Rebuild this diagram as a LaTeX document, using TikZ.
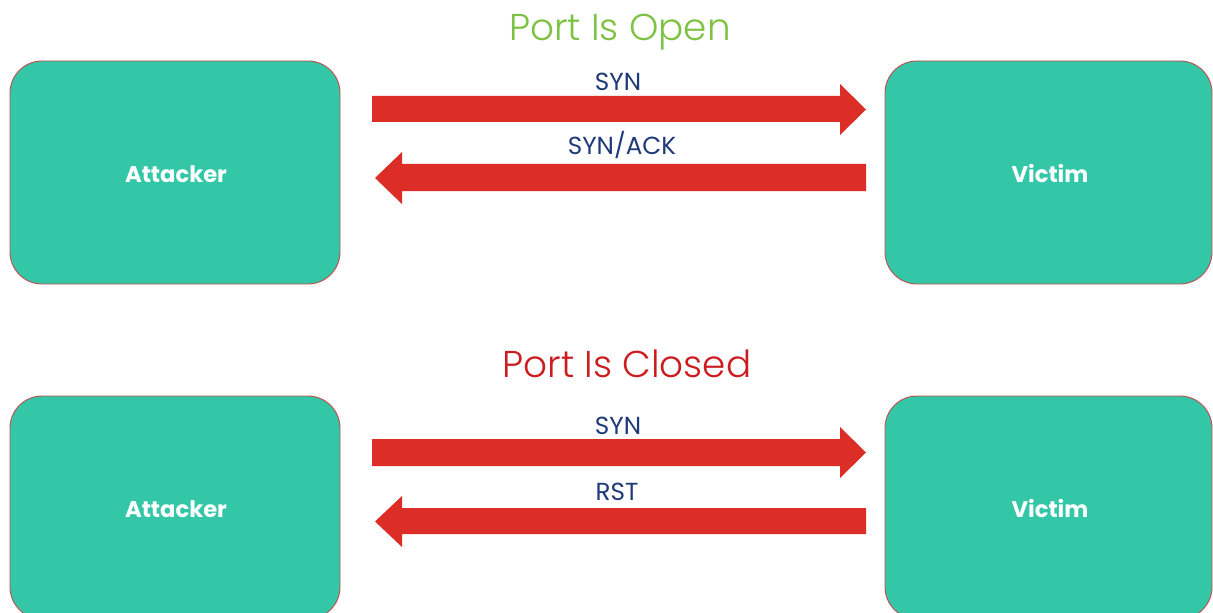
\documentclass[tikz,border=0pt]{standalone}
\usepackage{fontspec}
\setmainfont{Poppins}
\newfontfamily\titlefont{Poppins Light}
\definecolor{boxfill}{HTML}{33C7A8}
\definecolor{boxline}{HTML}{C0504D}
\definecolor{arrowred}{HTML}{DC2E27}
\definecolor{labelblue}{HTML}{1F3A78}
\definecolor{titlegreen}{HTML}{7DC243}
\definecolor{titlered}{HTML}{CC1C1F}
\tikzset{
  hostbox/.style={draw=boxline, line width=0.7pt, fill=boxfill, rounded corners=24pt,
    minimum height=167.25pt, inner sep=0pt},
  hostlabel/.style={anchor=base, text=white, inner sep=0pt, font=\fontsize{17}{20}\selectfont\bfseries},
  msglabel/.style={anchor=base, text=labelblue, inner sep=0pt, font=\fontsize{18.5}{22}\selectfont},
  titlelabel/.style={anchor=base, inner sep=0pt, font=\titlefont\fontsize{28}{32}\selectfont},
  blockarrow/.style={fill=arrowred, draw=none}
}
\begin{document}
\begin{tikzpicture}[x=0.75pt, y=-0.75pt]
\useasboundingbox (0,0) rectangle (1213,613);
\clip (0,0) rectangle (1213,613);
\fill[white] (0,0) rectangle (1213,613);

% titles
\node[titlelabel, text=titlegreen] (t1) at (620,41) {Port Is Open};
\node[titlelabel, text=titlered] (t2) at (627,377) {Port Is Closed};

% boxes
\node[hostbox, minimum width=247.5pt] (att1) at (175,172.5) {};
\node[hostbox, minimum width=245.25pt] (vic1) at (1048.5,172.5) {};
\node[hostbox, minimum width=247.5pt] (att2) at (175,507.5) {};
\node[hostbox, minimum width=245.25pt] (vic2) at (1048.5,507.5) {};
\node[hostlabel] (la1) at (176,182) {Attacker};
\node[hostlabel] (lv1) at (1050,182) {Victim};
\node[hostlabel] (la2) at (176,517) {Attacker};
\node[hostlabel] (lv2) at (1050,517) {Victim};

% top arrows
\fill[blockarrow] (372,96) -- (840,96) -- (840,84) -- (866,109.5) -- (840,135) -- (840,122) -- (372,122) -- cycle;
\fill[blockarrow] (866,164) -- (402,164) -- (402,152) -- (375,178) -- (402,204) -- (402,191) -- (866,191) -- cycle;
% bottom arrows
\fill[blockarrow] (372,439) -- (840,439) -- (840,427) -- (866,452.5) -- (840,478) -- (840,466) -- (372,466) -- cycle;
\fill[blockarrow] (866,508) -- (402,508) -- (402,496) -- (375,521.5) -- (402,547) -- (402,534) -- (866,534) -- cycle;

% labels
\node[msglabel] (m1) at (618,91) {SYN};
\node[msglabel] (m2) at (622,155) {SYN/ACK};
\node[msglabel] (m3) at (618,434) {SYN};
\node[msglabel] (m4) at (617,500) {RST};
\end{tikzpicture}
\end{document}
